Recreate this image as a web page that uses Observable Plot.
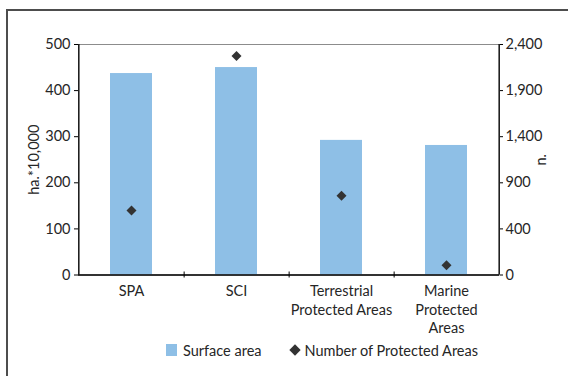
<!DOCTYPE html>
<html>
<head>
<meta charset="utf-8">
<script src="https://cdn.jsdelivr.net/npm/d3@7"></script>
<script src="https://cdn.jsdelivr.net/npm/@observablehq/plot@0.6"></script>
<style>
  html, body { margin: 0; padding: 0; background: #fff; overflow: hidden; }
  #wrap { position: relative; width: 568px; height: 376px; overflow: hidden; font-family: Lato, sans-serif; color: #262626; }
  #border { position: absolute; left: 6px; top: 9px; width: 700px; height: 500px;
            border-left: 2px solid #4d4d4d; border-top: 2px solid #4d4d4d; box-sizing: border-box; }
  #chart { position: relative; }
  #chart svg { display: block; }
  #legend { position: relative; height: 20px; margin-top: 4px; display: flex; align-items: center;
            padding-left: 166px; font-size: 14.5px; }
  .sw { width: 11px; height: 12px; background: #8ebfe6; margin-right: 6px; }
  .dm { width: 8px; height: 8px; background: #333; transform: rotate(45deg); margin: 0 6px 0 29px; }
</style>
</head>
<body>
<div id="wrap">
  <div id="border"></div>
  <div id="chart"></div>
  <div id="legend">
    <div class="sw"></div><span>Surface area</span>
    <div class="dm"></div><span>Number of Protected Areas</span>
  </div>
</div>
<script>
// Natura 2000 sites and protected areas: surface (ha × 10,000) and number of sites
const categories = ["SPA", "SCI", "Terrestrial Protected Areas", "Marine Protected Areas"];
const tickLabels = ["SPA", "SCI", "Terrestrial\nProtected Areas", "Marine\nProtected\nAreas"];
const surfaceArea = [437, 450, 292, 281];      // ha.*10,000 (left axis)
const protectedCount = [600, 2275, 760, 5];     // n. (right axis)

const leftTicks = [0, 100, 200, 300, 400, 500];
const rightDomain = [-100, 2400];
const rightTicks = [-100, 400, 900, 1400, 1900, 2400];
const rightTickLabels = ["0", "400", "900", "1,400", "1,900", "2,400"];

const data = categories.map((c, i) => ({category: c, area: surfaceArea[i], count: protectedCount[i]}));

// the right-hand counts share the left scale through a linear conversion
const toLeft = d3.scaleLinear(rightDomain, [0, 500]);
const rightTickPos = rightTicks.map(toLeft);

const width = 568, height = 336;
const marginLeft = 78, marginRight = 69, marginTop = 44, marginBottom = height - 274.5;
const step = (width - marginLeft - marginRight) / categories.length;

const chart = Plot.plot({
  width, height, marginLeft, marginRight, marginTop, marginBottom,
  style: {fontFamily: "Lato, sans-serif", fontSize: "14.5px", color: "#111", background: "transparent"},
  x: {domain: categories, paddingInner: 0.6, paddingOuter: 0.3},
  y: {domain: [0, 500]},
  marks: [
    Plot.frame({stroke: "#8c8c8c"}),
    Plot.barY(data, {x: "category", y: "area", fill: "#8ebfe6"}),
    Plot.dot(data, {x: "category", y: d => toLeft(d.count), symbol: "diamond2", r: 4.5, fill: "#333"}),
    Plot.ruleY([0], {stroke: "#000", strokeWidth: 1.3}),
    Plot.ruleX([categories[0]], {dx: -step / 2, stroke: "#000", strokeWidth: 1.3}),
    Plot.ruleX([categories[categories.length - 1]], {dx: step / 2, stroke: "#000", strokeWidth: 1.3}),
    // category separators on the bottom axis
    Plot.ruleX(categories.slice(0, -1), {y1: 0, y2: 0, insetTop: -3, insetBottom: -3, dx: step / 2, stroke: "#000"}),
    Plot.axisY(leftTicks, {anchor: "left", tickSize: 4, tickPadding: 4, label: null, stroke: "#000", fill: "#262626"}),
    Plot.axisY(rightTickPos, {anchor: "right", tickSize: 3, tickPadding: 3, label: null,
      tickFormat: d => rightTickLabels[rightTickPos.indexOf(d)], stroke: "#000", fill: "#262626"}),
    Plot.axisX({anchor: "bottom", tickSize: 0, tickPadding: 8, label: null, lineHeight: 1.28,
      tickFormat: d => tickLabels[categories.indexOf(d)], fill: "#262626"}),
    Plot.text(["ha.*10,000"], {frameAnchor: "left", dx: -44, rotate: -90, textAnchor: "middle", fill: "#262626"}),
    Plot.text(["n."], {frameAnchor: "right", dx: 42, rotate: -90, textAnchor: "middle", fill: "#262626"})
  ]
});
document.getElementById("chart").appendChild(chart);
</script>
</body>
</html>
